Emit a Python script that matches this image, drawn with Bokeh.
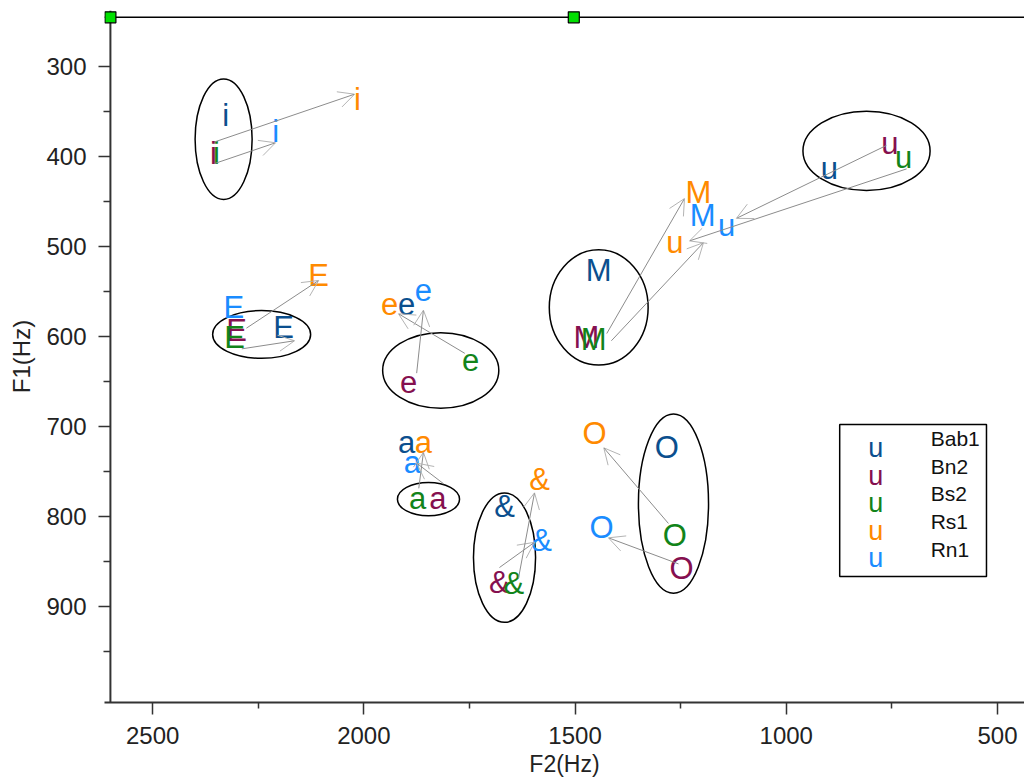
from bokeh.plotting import figure
from bokeh.models import (Range1d, FixedTicker, Span, Arrow, OpenHead, Label,
                          BoxAnnotation, ColumnDataSource)
from bokeh.core.properties import value
from bokeh.embed import file_html
from bokeh.resources import INLINE

# ---------------- data ----------------
speakers = ["Bab1", "Bn2", "Bs2", "Rs1", "Rn1"]
speaker_colors = ["#0b4f8e", "#85104f", "#12841a", "#ff8a00", "#1a8cff"]
vowels = ["i", "E", "e", "a", "&", "O", "M", "u"]

f2_bab1 = [2327, 2190, 1899, 1899, 1667, 1283, 1444, 898]
f1_bab1 = [355, 590, 564, 718, 789, 724, 527, 414]
f2_bn2 = [2356, 2301, 1894, 1825, 1679, 1248, 1473, 755]
f1_bn2 = [397, 594, 651, 780, 874, 858, 601, 386]
f2_bs2 = [2349, 2306, 1747, 1873, 1645, 1264, 1456, 722]
f1_bs2 = [397, 601, 626, 780, 875, 821, 604, 401]
f2_rs1 = [2015, 2107, 1939, 1859, 1584, 1454, 1208, 1264]
f1_rs1 = [337, 533, 564, 718, 759, 708, 440, 496]
f2_rn1 = [2209, 2308, 1859, 1885, 1579, 1437, 1198, 1141]
f1_rn1 = [373, 568, 549, 740, 827, 813, 466, 477]

# ellipses around the B-speaker clusters (centre, width, height in Hz)
ell_f2 = [2332, 2242, 1818, 1847, 1667, 1267, 1444, 810]
ell_f1 = [381, 598, 638, 781, 846, 786, 568, 394]
ell_w = [135, 232, 275, 147, 147, 166, 234, 301]
ell_h = [134, 53, 84, 37, 144, 199, 128, 88]

# arrows (Hz)
arr_f2_from = [2353, 2353, 2278, 2289, 1761, 1875, 1870, 1811, 1679, 1634, 1279, 1255, 1425, 1414, 763, 715]
arr_f1_from = [384, 408, 591, 614, 619, 641, 769, 764, 857, 869, 808, 853, 597, 605, 388, 414]
arr_f2_to = [2022, 2209, 2107, 2164, 1918, 1859, 1859, 1875, 1596, 1596, 1432, 1421, 1241, 1196, 1118, 1229]
arr_f1_to = [331, 385, 538, 605, 575, 571, 729, 741, 829, 774, 724, 824, 447, 496, 469, 494]

# axis configuration
x_major = [2500, 2000, 1500, 1000, 500]
x_minor = [2250, 1750, 1250, 750]
y_major = [300, 400, 500, 600, 700, 800, 900]
y_minor = [350, 450, 550, 650, 750, 850, 950]
AXIS_F2_MAX = 2600
AXIS_F1_MIN = 245.6
handle_f2 = [2600, 1503]

FONT = "Liberation Sans"

# ---------------- figure ----------------
p = figure(width=1024, height=779,
           x_range=Range1d(2614, 436), y_range=Range1d(1007, 238),
           output_backend="svg", toolbar_location=None,
           min_border_left=104, min_border_right=0,
           min_border_top=10, min_border_bottom=77)
p.grid.visible = False
p.outline_line_color = None
p.background_fill_color = "white"
p.border_fill_color = "white"

# y axis (line drawn as span at F2 = 2600)
ya = p.yaxis[0]
ya.ticker = FixedTicker(ticks=y_major, minor_ticks=y_minor)
ya.axis_line_color = None
ya.major_tick_in = 6
ya.major_tick_out = 6
ya.minor_tick_in = 6
ya.minor_tick_out = 1
ya.major_tick_line_color = "#333333"
ya.minor_tick_line_color = "#333333"
ya.major_tick_line_width = 1.5
ya.minor_tick_line_width = 1.5
ya.major_label_text_font = FONT
ya.major_label_text_font_size = "24px"
ya.major_label_text_color = "#222222"
ya.major_label_standoff = 12
ya.axis_label = "F1(Hz)"
ya.axis_label_text_font = FONT
ya.axis_label_text_font_size = "24px"
ya.axis_label_text_font_style = "normal"
ya.axis_label_text_color = "#222222"
ya.axis_label_standoff = 8

xa = p.xaxis[0]
xa.ticker = FixedTicker(ticks=x_major, minor_ticks=x_minor)
xa.axis_line_color = "#333333"
xa.axis_line_width = 2
xa.major_tick_in = 0
xa.major_tick_out = 12
xa.minor_tick_in = 0
xa.minor_tick_out = 6
xa.major_tick_line_color = "#333333"
xa.minor_tick_line_color = "#333333"
xa.major_tick_line_width = 1.5
xa.minor_tick_line_width = 1.5
xa.major_label_text_font = FONT
xa.major_label_text_font_size = "24px"
xa.major_label_text_color = "#222222"
xa.major_label_standoff = 12
xa.axis_label = "F2(Hz)"
xa.axis_label_text_font = FONT
xa.axis_label_text_font_size = "23px"
xa.axis_label_text_font_style = "normal"
xa.axis_label_text_color = "#222222"
xa.axis_label_standoff = 4

p.add_layout(Span(location=AXIS_F2_MAX, dimension="height", line_color="#333333",
                  line_width=2, level="underlay"))
p.add_layout(Span(location=AXIS_F1_MIN, dimension="width", line_color="black",
                  line_width=1.5, level="underlay"))

# ellipses
ell_src = ColumnDataSource(dict(x=ell_f2, y=ell_f1, w=ell_w, h=ell_h))
p.ellipse(x="x", y="y", width="w", height="h", source=ell_src,
          fill_color=None, line_color="black", line_width=1.5)

# vowel symbols
all_f2 = [f2_bab1, f2_bn2, f2_bs2, f2_rs1, f2_rn1]
all_f1 = [f1_bab1, f1_bn2, f1_bs2, f1_rs1, f1_rn1]
for f2, f1, col in zip(all_f2, all_f1, speaker_colors):
    src = ColumnDataSource(dict(x=f2, y=f1, t=vowels))
    p.text(x="x", y="y", text="t", source=src, text_color=col,
           text_font=value(FONT), text_font_size="31px",
           text_align="center", text_baseline="middle")

# arrows
arr_src = ColumnDataSource(dict(x0=arr_f2_from, y0=arr_f1_from, x1=arr_f2_to, y1=arr_f1_to))
p.add_layout(Arrow(x_start="x0", y_start="y0", x_end="x1", y_end="y1", source=arr_src,
                   line_color="#8c8c8c", line_width=1,
                   end=OpenHead(size=16, line_color="#b4b4b4", line_width=1)))

# handles on top line
p.scatter(x=handle_f2, y=[AXIS_F1_MIN] * len(handle_f2), marker="square", size=11,
          fill_color="#00e000", line_color="black", line_width=1.2)

# legend (manual)
LEG_LEFT, LEG_RIGHT, LEG_TOP, LEG_BOTTOM = 873.5, 526, 698, 867
p.add_layout(BoxAnnotation(left=LEG_LEFT, right=LEG_RIGHT, top=LEG_TOP, bottom=LEG_BOTTOM,
                           fill_color="white", fill_alpha=1, line_color="black",
                           line_width=1.5, line_alpha=1))
for k, (name, col) in enumerate(zip(speakers, speaker_colors)):
    p.add_layout(Label(x=LEG_LEFT, y=LEG_TOP, x_offset=36, y_offset=-(24 + 27.5 * k),
                       text="u", text_color=col, text_font=FONT, text_font_size="27px",
                       text_align="center", text_baseline="middle"))
    p.add_layout(Label(x=LEG_LEFT, y=LEG_TOP, x_offset=91, y_offset=-(14 + 27.7 * k),
                       text=name, text_color="#111111", text_font=FONT,
                       text_font_size="21px", text_align="left", text_baseline="middle"))

open("out.html", "w").write(file_html(p, INLINE))
